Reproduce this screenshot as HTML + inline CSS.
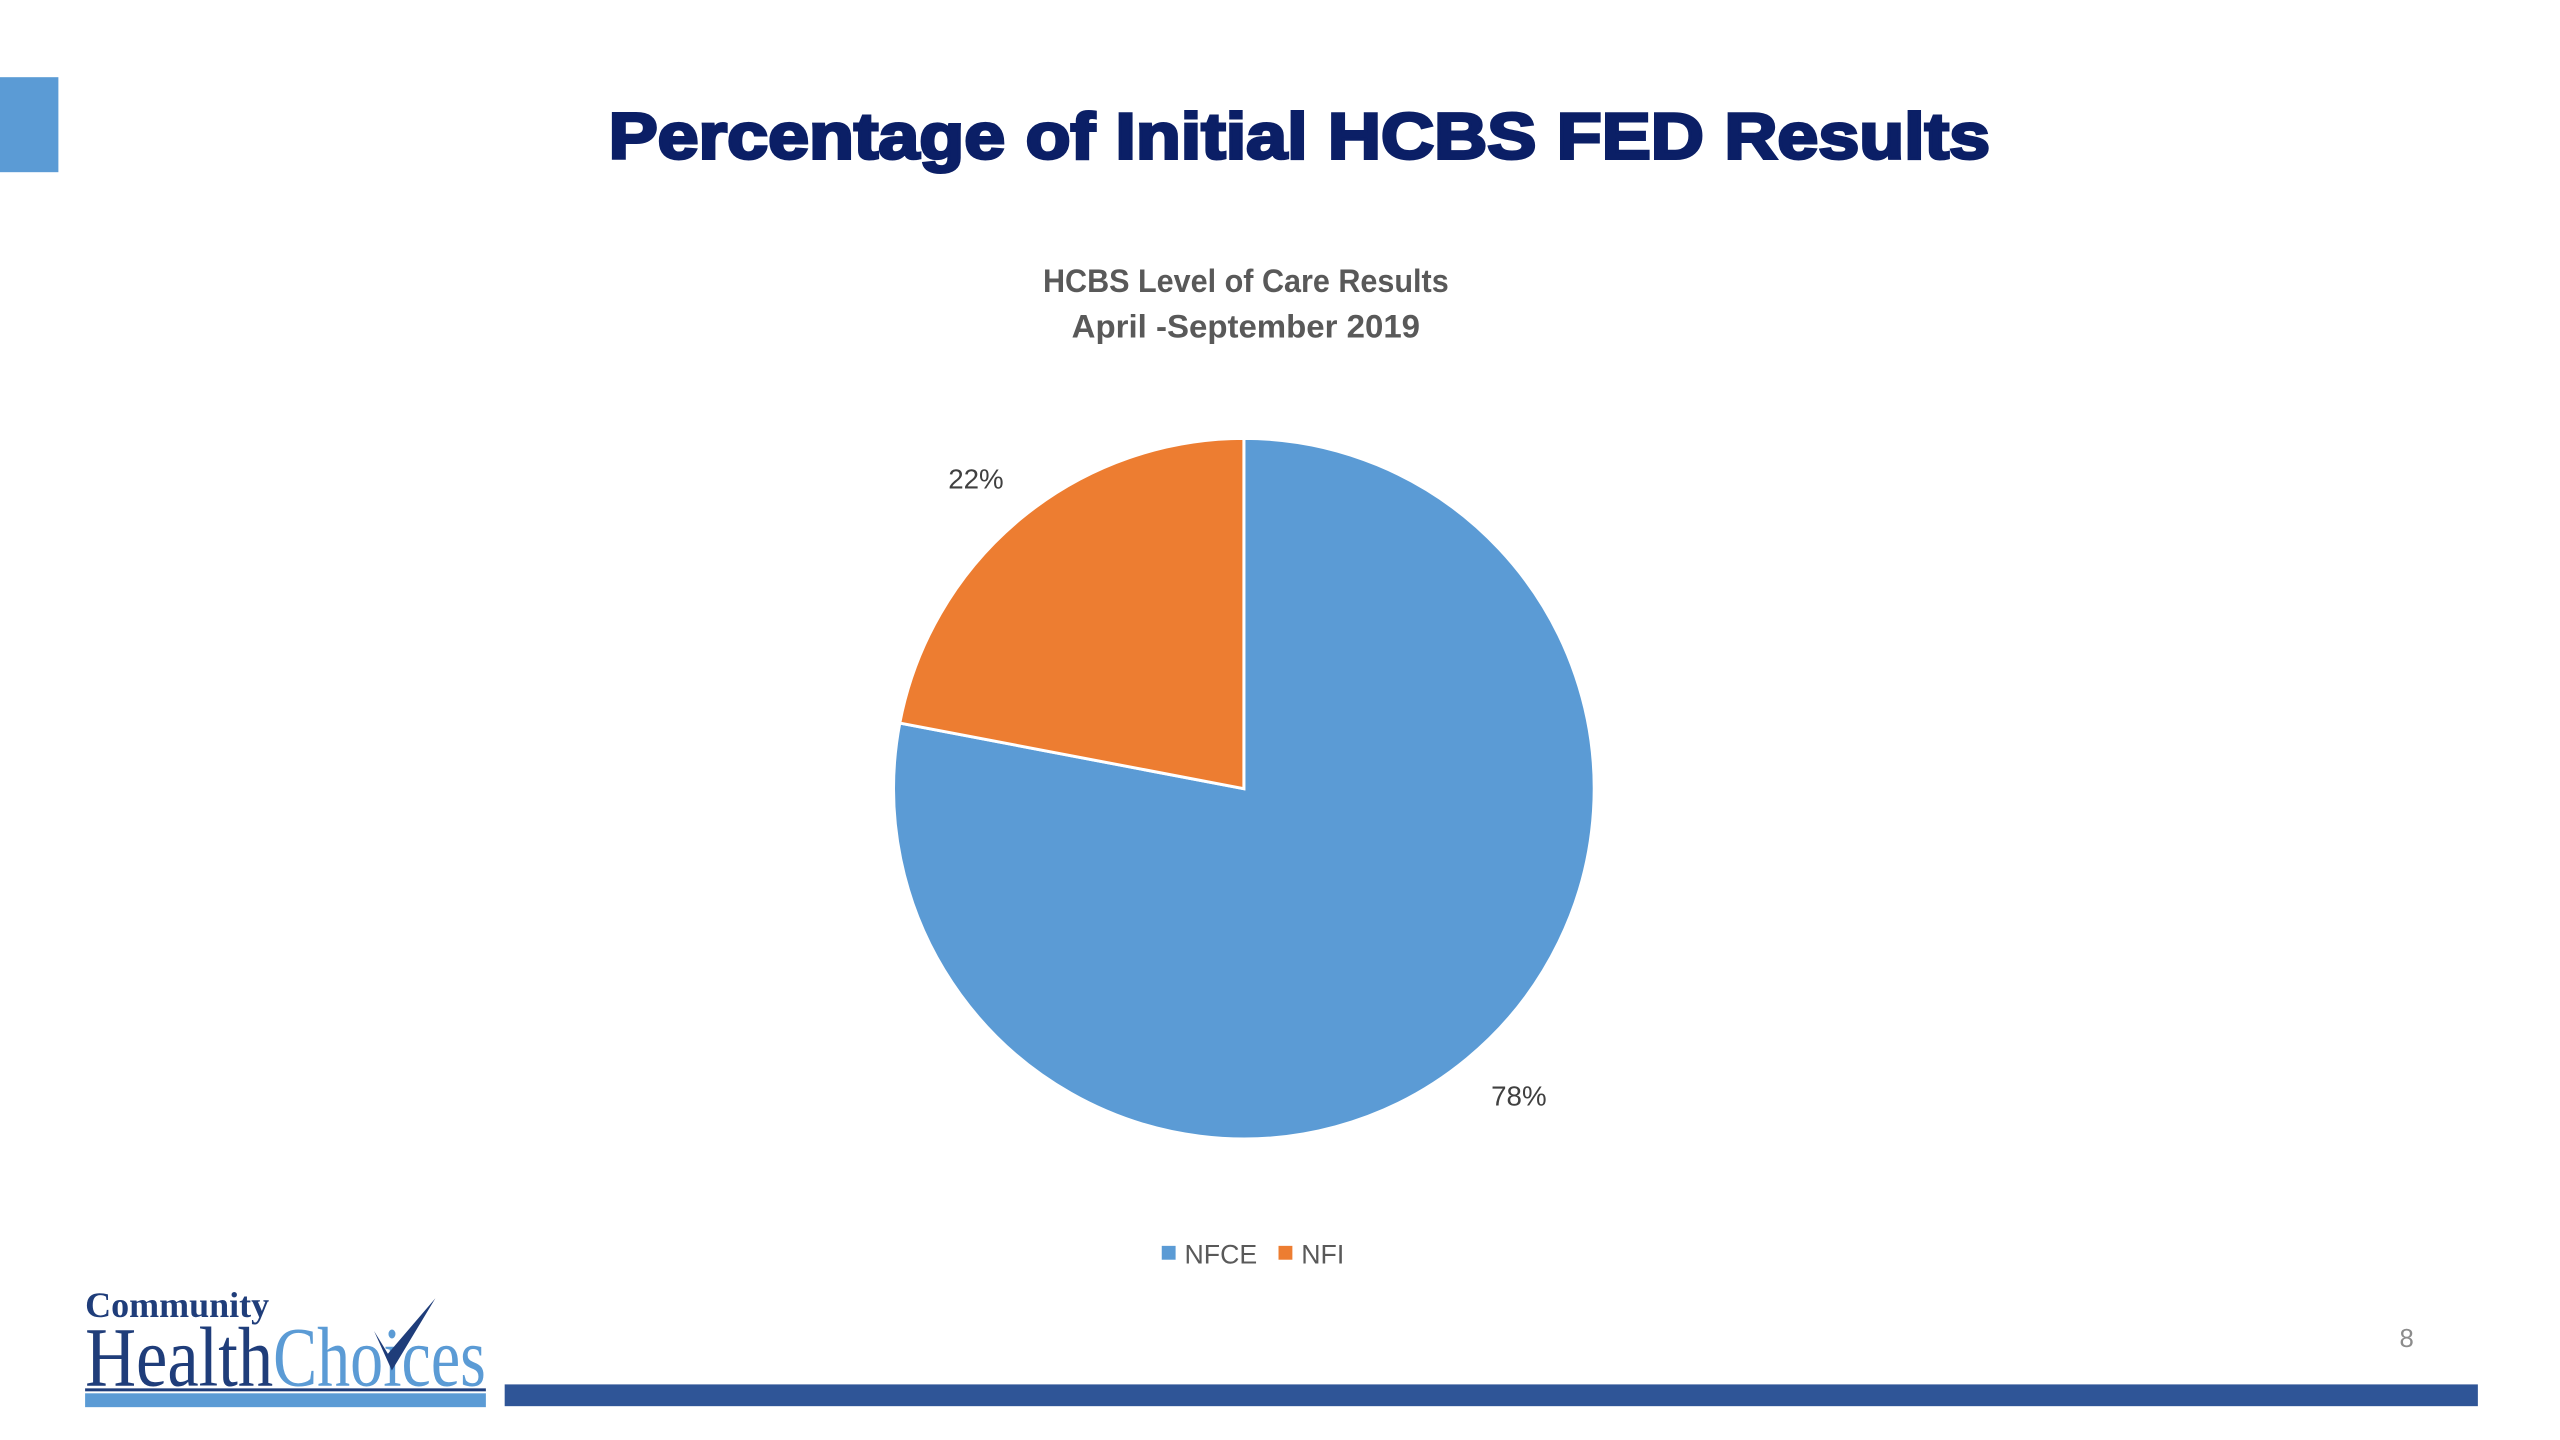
<!DOCTYPE html>
<html><head><meta charset="utf-8"><style>
html,body{margin:0;padding:0;background:#fff;}
svg{display:block;}
</style></head><body>
<svg width="2560" height="1440" viewBox="0 0 2587 1455" preserveAspectRatio="xMinYMin meet" xmlns="http://www.w3.org/2000/svg" font-family="Liberation Sans, sans-serif">
<rect x="0" y="0" width="2587" height="1455" fill="#fff"/>
<rect x="0" y="78" width="59" height="96" fill="#5b9bd5"/>
<text x="1313" y="160" text-anchor="middle" font-size="66" font-weight="bold" fill="#0b1f66" stroke="#0b1f66" stroke-width="3" textLength="1396" lengthAdjust="spacingAndGlyphs">Percentage of Initial HCBS FED Results</text>
<text x="1259" y="295" text-anchor="middle" font-size="33" font-weight="bold" fill="#595959" textLength="410" lengthAdjust="spacingAndGlyphs">HCBS Level of Care Results</text>
<text x="1259" y="341" text-anchor="middle" font-size="33" font-weight="bold" fill="#595959" textLength="352" lengthAdjust="spacingAndGlyphs">April -September 2019</text>
<g id="pie"></g>
<g>
<rect x="1174" y="1259" width="14" height="14" fill="#5b9bd5"/>
<text x="1197" y="1277" font-size="27" fill="#595959">NFCE</text>
<rect x="1292" y="1259" width="14" height="14" fill="#ed7d31"/>
<text x="1315" y="1277" font-size="27" fill="#595959">NFI</text>
</g>
<text x="2432" y="1361" text-anchor="middle" font-size="26" fill="#8c8c8c">8</text>
<rect x="510" y="1399" width="1994" height="22" fill="#2f5597"/>
<g>
<text x="86" y="1331" font-family="Liberation Serif, serif" font-weight="bold" font-size="36" fill="#1f3d7a" textLength="186" lengthAdjust="spacingAndGlyphs">Community</text>
<text x="86" y="1400" font-family="Liberation Serif, serif" font-size="86" fill="#1f3d7a" textLength="190" lengthAdjust="spacingAndGlyphs">Health</text>
<text x="276" y="1400" font-family="Liberation Serif, serif" font-size="86" fill="#5b9bd5" textLength="215" lengthAdjust="spacingAndGlyphs">Choices</text>
<path d="M378 1345 L392 1368 L440 1312 L396 1385 Z" fill="#1f3d7a"/>
<rect x="86" y="1403" width="405" height="3" fill="#1f3d7a"/>
<rect x="86" y="1408" width="405" height="14" fill="#5b9bd5"/>
</g>
</svg>
<script>
const categories = ["NFCE", "NFI"];
const values = [78, 22];
const valueLabels = ["78%", "22%"];
const colors = ["#5b9bd5", "#ed7d31"];
const cx = 1257, cy = 797, r = 354;
const NS = "http://www.w3.org/2000/svg";
const g = document.getElementById("pie");
const total = values.reduce((a, b) => a + b, 0);
function pt(frac, rad) {
  const a = frac * 2 * Math.PI - Math.PI / 2;
  return [cx + rad * Math.cos(a), cy + rad * Math.sin(a)];
}
let acc = 0;
values.forEach((v, i) => {
  const f0 = acc / total, f1 = (acc + v) / total;
  const p0 = pt(f0, r), p1 = pt(f1, r);
  const large = (f1 - f0) > 0.5 ? 1 : 0;
  const path = document.createElementNS(NS, "path");
  path.setAttribute("d", `M${cx},${cy} L${p0[0]},${p0[1]} A${r},${r} 0 ${large} 1 ${p1[0]},${p1[1]} Z`);
  path.setAttribute("fill", colors[i]);
  path.setAttribute("stroke", "#fff");
  path.setAttribute("stroke-width", "3");
  
  
  g.appendChild(path);
  const mid = (f0 + f1) / 2;
  const lp = pt(mid, r * 1.2);
  const t = document.createElementNS(NS, "text");
  t.setAttribute("text-anchor", "middle");
  t.setAttribute("font-size", "28");
  t.setAttribute("fill", "#404040");
  t.textContent = valueLabels[i];
  
  
  if (i === 0) { t.setAttribute("x", cx + r * 0.785); t.setAttribute("y", cy + r * 0.905); }
  else { t.setAttribute("x", lp[0]); t.setAttribute("y", lp[1] + 24); }
  g.appendChild(t);
  acc += v;
});
</script>
</body></html>
